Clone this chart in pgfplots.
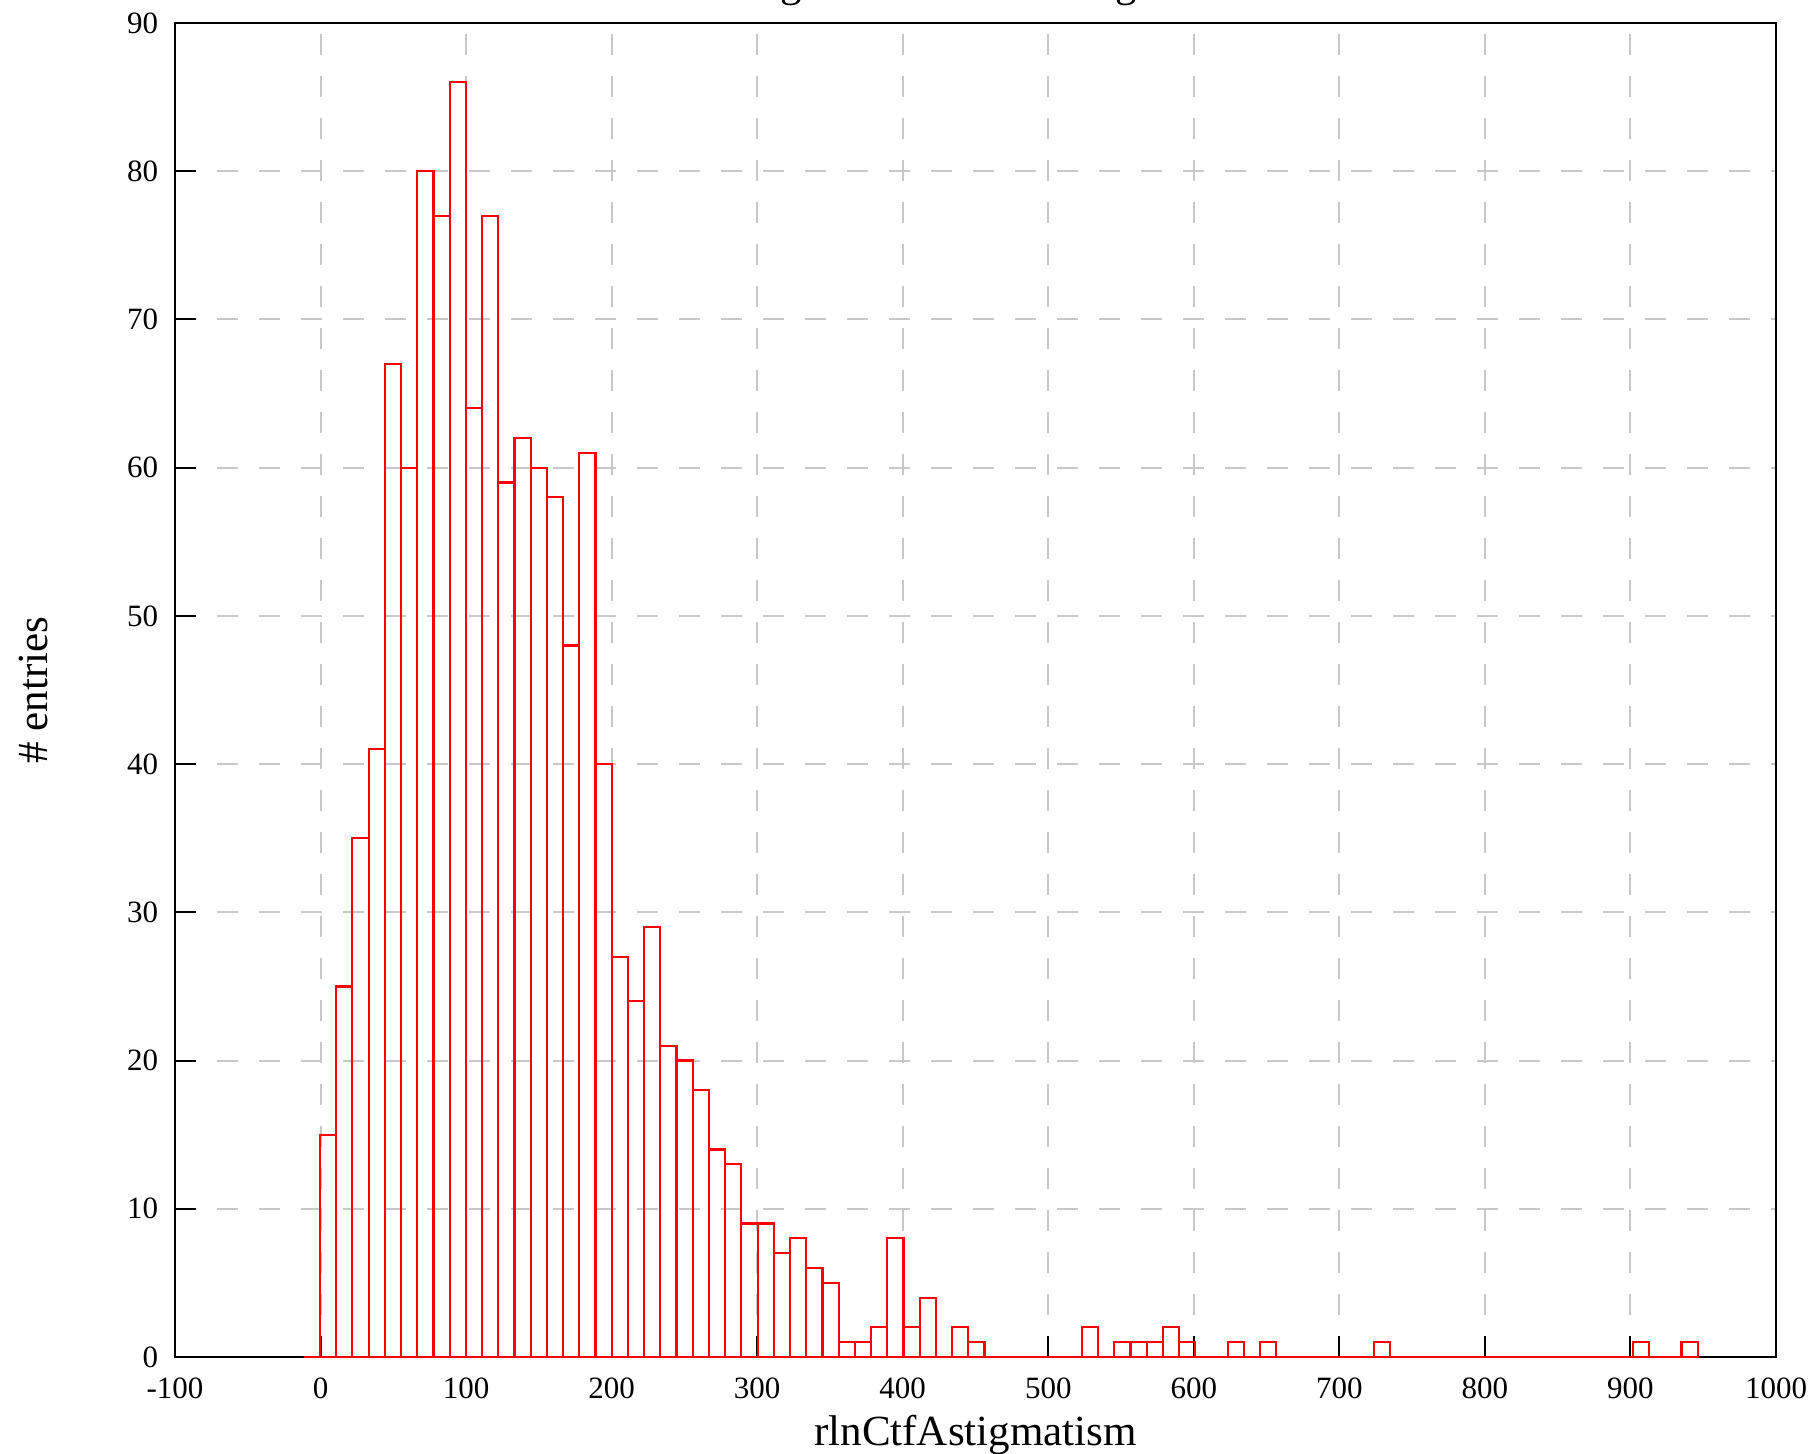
\documentclass[border=0pt]{standalone}
\usepackage{pgfplots}
\pgfplotsset{compat=1.18}
\usepackage{fontspec}
\setmainfont{Liberation Serif}
\definecolor{gridgray}{RGB}{200,200,200}

% histogram: left bin edge, count (last row only closes the last bin)
\pgfplotstableread{
x y
-11.537 0
-0.400 15
10.737 25
21.874 35
33.011 41
44.148 67
55.285 60
66.422 80
77.559 77
88.696 86
99.833 64
110.970 77
122.107 59
133.244 62
144.381 60
155.518 58
166.655 48
177.792 61
188.929 40
200.066 27
211.203 24
222.340 29
233.477 21
244.614 20
255.751 18
266.888 14
278.025 13
289.162 9
300.299 9
311.436 7
322.573 8
333.710 6
344.847 5
355.984 1
367.121 1
378.258 2
389.395 8
400.532 2
411.669 4
422.806 0
433.943 2
445.080 1
456.217 0
467.354 0
478.491 0
489.628 0
500.765 0
511.902 0
523.039 2
534.176 0
545.313 1
556.450 1
567.587 1
578.724 2
589.861 1
600.998 0
612.135 0
623.272 1
634.409 0
645.546 1
656.683 0
667.820 0
678.957 0
690.094 0
701.231 0
712.368 0
723.505 1
734.642 0
745.779 0
756.916 0
768.053 0
779.190 0
790.327 0
801.464 0
812.601 0
823.738 0
834.875 0
846.012 0
857.149 0
868.286 0
879.423 0
890.560 0
901.697 1
912.834 0
923.971 0
935.108 1
946.245 0
}\histdata

\begin{document}
\begin{tikzpicture}
\begin{axis}[
    name=ax,
    scale only axis,
    width=480.3pt, height=400.2pt,
    xmin=-100, xmax=1000,
    ymin=0, ymax=90,
    xtick={-100,0,...,1000},
    ytick={0,10,...,90},
    tick align=inside,
    xtick pos=bottom, ytick pos=left,
    major tick length=6.3pt,
    tick style={black, line width=0.6pt},
    axis line style={black, line width=0.65pt},
    grid=major,
    major grid style={gridgray, line width=0.6pt, dash pattern=on 6.3pt off 6.3pt},
    /pgf/number format/assume math mode=true,
    /pgf/number format/1000 sep={},
    ticklabel style={font=\fontsize{9.3}{11}\selectfont},
    xticklabel style={yshift=-2.7pt},
    yticklabel style={xshift=-1.5pt},
    title={Histogram for rlnCtfAstigmatism},
    xlabel={rlnCtfAstigmatism},
    ylabel={\# entries},
    every axis title/.style={at={(axis description cs:0.5,1)}, anchor=base,
        yshift=7.9pt, font=\fontsize{12.9}{15}\selectfont},
    every axis x label/.style={at={(axis description cs:0.5,0)}, anchor=base,
        yshift=-26.7pt, font=\fontsize{12.9}{15}\selectfont},
    every axis y label/.style={at={(axis description cs:0,0.5)}, xshift=-38.1pt,
        rotate=90, anchor=base, font=\fontsize{12.9}{15}\selectfont},
    clip=false,
]
\addplot[ybar interval, draw=red, fill=none, line width=0.65pt] table[x=x, y=y] {\histdata};
\end{axis}
% the reference crops the title at the top edge
\pgfresetboundingbox
\path[use as bounding box] ([xshift=-52.5pt, yshift=-29.1pt]ax.south west)
    rectangle ([xshift=12.9pt, yshift=6.9pt]ax.north east);
\end{tikzpicture}
\end{document}
